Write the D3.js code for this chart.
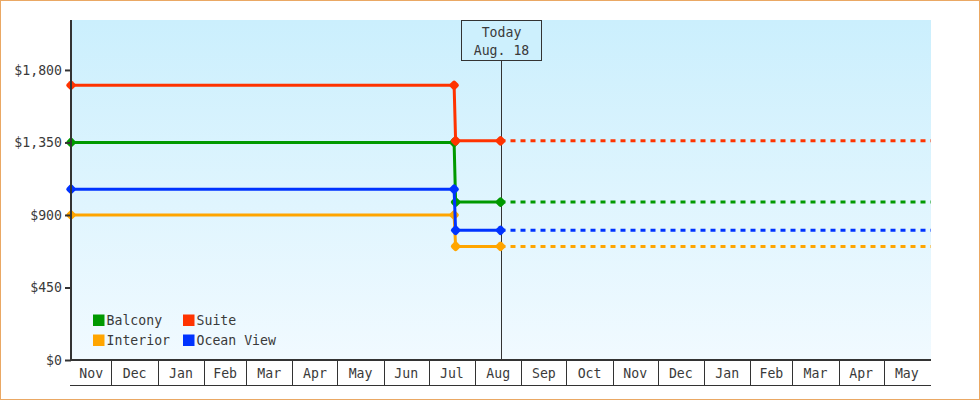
<!DOCTYPE html>
<html>
<head>
<meta charset="utf-8">
<script src="https://cdn.jsdelivr.net/npm/d3@7/dist/d3.min.js"></script>
<style>
  html, body { margin: 0; padding: 0; background: #fff; }
  svg { display: block; }
  text { font-family: "DejaVu Sans Mono", monospace; font-size: 13.2px; fill: #3a3a3a; }
</style>
</head>
<body>
<svg id="chart" width="980" height="400"></svg>
<script>
// ---- data ----
const categories = ["Interior", "Balcony", "Ocean View", "Suite"];
const seriesColors = ["#ffa500", "#009900", "#0033ff", "#ff3300"];
const oldPrices = [900, 1350, 1060, 1705];
const newPrices = [705, 980, 805, 1360];
const legendOrder = ["Balcony", "Suite", "Interior", "Ocean View"];
const startDate = "2012-11-04";
const lastOldDate = "2013-07-18";
const firstNewDate = "2013-07-19";
const todayDate = "2013-08-18";
const endDate = "2014-06-01";
const todayLabel = ["Today", "Aug. 18"];
const yTicks = [0, 450, 900, 1350, 1800];
const yMax = 2110;

// ---- setup ----
const parse = d3.timeParse("%Y-%m-%d");
const W = 980, H = 400;
const m = { left: 71, right: 50, top: 20, bottom: 40 };
const x0 = m.left, x1 = 930, y0 = H - m.bottom, y1 = m.top;

const svg = d3.select("#chart");
const x = d3.scaleTime().domain([parse(startDate), parse(endDate)]).range([x0, x1]);
const y = d3.scaleLinear().domain([0, yMax]).range([y0, y1]);

// outer border
svg.append("rect").attr("x", 0.5).attr("y", 0.5).attr("width", W - 1).attr("height", H - 1)
  .attr("fill", "#fff").attr("stroke", "#eaa864").attr("stroke-width", 1);

// background gradient
const defs = svg.append("defs");
const grad = defs.append("linearGradient").attr("id", "bg").attr("x1", 0).attr("y1", 0).attr("x2", 0).attr("y2", 1);
grad.append("stop").attr("offset", "0%").attr("stop-color", "#cbeffd");
grad.append("stop").attr("offset", "100%").attr("stop-color", "#f1faff");
svg.append("rect").attr("x", x0).attr("y", y1).attr("width", 931 - x0).attr("height", y0 - y1)
  .attr("fill", "url(#bg)");

// x axis: month cells
const months = d3.timeMonth.range(d3.timeMonth.floor(x.domain()[0]), x.domain()[1]);
const xg = svg.append("g");
months.forEach(ms => {
  const s = ms < x.domain()[0] ? x.domain()[0] : ms;
  const e0 = d3.timeMonth.offset(ms, 1);
  const e = e0 > x.domain()[1] ? x.domain()[1] : e0;
  if (ms > x.domain()[0]) {
    xg.append("line").attr("x1", Math.round(x(ms)) + 0.5).attr("x2", Math.round(x(ms)) + 0.5)
      .attr("y1", y0).attr("y2", 385).attr("stroke", "#333").attr("stroke-width", 1);
  }
  xg.append("text").attr("x", (x(s) + x(e)) / 2).attr("y", 378).attr("text-anchor", "middle")
    .text(d3.timeFormat("%b")(ms));
});
xg.append("line").attr("x1", 70).attr("x2", 931).attr("y1", 385.5).attr("y2", 385.5)
  .attr("stroke", "#333").attr("stroke-width", 1);

// today marker
const tx = Math.round(x(parse(todayDate))) + 0.5;
svg.append("line").attr("x1", tx).attr("x2", tx).attr("y1", 60).attr("y2", y0)
  .attr("stroke", "#333").attr("stroke-width", 1);
svg.append("rect").attr("x", tx - 40).attr("y", 20.5).attr("width", 80).attr("height", 40)
  .attr("fill", "#cdf0fd").attr("stroke", "#333").attr("stroke-width", 1);
svg.append("text").attr("x", tx).attr("y", 37).attr("text-anchor", "middle").text(todayLabel[0]);
svg.append("text").attr("x", tx).attr("y", 55).attr("text-anchor", "middle").text(todayLabel[1]);

// series
const line = d3.line().x(d => x(d[0])).y(d => y(d[1]));
const marker = (g, px, py, c) => {
  g.append("rect").attr("x", -4).attr("y", -4).attr("width", 8).attr("height", 8)
    .attr("rx", 2.2).attr("fill", c)
    .attr("transform", `translate(${px},${py}) rotate(45)`);
};
categories.forEach((cat, i) => {
  const c = seriesColors[i];
  const g = svg.append("g");
  const solid = [
    [parse(startDate), oldPrices[i]],
    [parse(lastOldDate), oldPrices[i]],
    [parse(firstNewDate), newPrices[i]],
    [parse(todayDate), newPrices[i]]
  ];
  g.append("path").attr("d", line(solid)).attr("fill", "none").attr("stroke", c)
    .attr("stroke-width", 3);
  g.append("path").attr("d", line([[parse(todayDate), newPrices[i]], [x.invert(931), newPrices[i]]]))
    .attr("fill", "none").attr("stroke", c).attr("stroke-width", 3)
    .attr("stroke-dasharray", "5,5");
  solid.forEach(d => marker(g, x(d[0]), y(d[1]), c));
});

// y axis
const yAxis = d3.axisLeft(y).tickValues(yTicks).tickSize(6).tickPadding(3)
  .tickFormat(d3.format("$,"));
const ya = svg.append("g").attr("transform", `translate(${x0},0)`).call(yAxis);
ya.select(".domain").remove();
ya.selectAll(".tick line").attr("stroke", "#333").attr("stroke-width", 2);
ya.selectAll(".tick text").attr("font-family", "DejaVu Sans Mono").attr("font-size", 13.2).attr("fill", "#3a3a3a");
svg.append("line").attr("x1", x0).attr("x2", x0).attr("y1", y1).attr("y2", y0 + 1)
  .attr("stroke", "#333").attr("stroke-width", 2);
svg.append("line").attr("x1", x0 - 1).attr("x2", 931).attr("y1", y0).attr("y2", y0)
  .attr("stroke", "#333").attr("stroke-width", 2);

// legend
const lg = svg.append("g");
legendOrder.forEach((name, k) => {
  const col = k % 2, row = Math.floor(k / 2);
  const lx = 93 + col * 90, ly = 314.5 + row * 20;
  lg.append("rect").attr("x", lx).attr("y", ly).attr("width", 11.5).attr("height", 11.5)
    .attr("fill", seriesColors[categories.indexOf(name)]);
  lg.append("text").attr("x", lx + 13.5).attr("y", ly + 10.5).text(name);
});
</script>
</body>
</html>
